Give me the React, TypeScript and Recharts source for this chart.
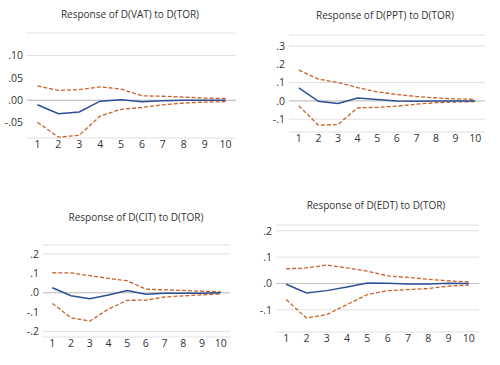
import React from 'react';
import { LineChart, Line, XAxis, YAxis, CartesianGrid, ReferenceLine } from 'recharts';

const periods = [1, 2, 3, 4, 5, 6, 7, 8, 9, 10];
const gridX = [1.5, 2.5, 3.5, 4.5, 5.5, 6.5, 7.5, 8.5, 9.5, 10.5];

const vatResp = [-0.010, -0.030, -0.026, -0.002, 0.001, -0.003, -0.001, 0.000, 0.000, 0.000];
const vatUpper = [0.032, 0.022, 0.024, 0.030, 0.025, 0.010, 0.009, 0.007, 0.005, 0.004];
const vatLower = [-0.049, -0.082, -0.078, -0.035, -0.020, -0.016, -0.010, -0.006, -0.004, -0.003];

const pptResp = [0.071, -0.002, -0.014, 0.016, 0.008, 0.000, -0.002, -0.001, 0.000, 0.000];
const pptUpper = [0.168, 0.119, 0.100, 0.073, 0.049, 0.035, 0.024, 0.016, 0.011, 0.008];
const pptLower = [-0.027, -0.133, -0.129, -0.038, -0.035, -0.029, -0.018, -0.010, -0.006, -0.004];

const citResp = [0.026, -0.015, -0.031, -0.012, 0.012, -0.008, -0.003, -0.003, -0.002, 0.000];
const citUpper = [0.103, 0.102, 0.088, 0.074, 0.062, 0.019, 0.015, 0.012, 0.008, 0.005];
const citLower = [-0.055, -0.129, -0.146, -0.084, -0.039, -0.038, -0.022, -0.016, -0.011, -0.006];

const edtResp = [-0.003, -0.036, -0.027, -0.013, 0.002, 0.001, -0.002, -0.002, 0.001, 0.000];
const edtUpper = [0.056, 0.059, 0.070, 0.059, 0.047, 0.029, 0.023, 0.016, 0.010, 0.006];
const edtLower = [-0.061, -0.131, -0.118, -0.080, -0.042, -0.027, -0.023, -0.019, -0.010, -0.006];

const vatTicks = [-0.05, 0, 0.05, 0.1];
const pptTicks = [-0.1, 0, 0.1, 0.2, 0.3];
const citTicks = [-0.2, -0.1, 0, 0.1, 0.2];
const edtTicks = [-0.1, 0, 0.1, 0.2];

const FONT = '"Open Sans", "Noto Sans", sans-serif';
const BLUE = '#2c4f96';
const ORANGE = '#c9622a';
const GRID = '#e0e0e0';
const CHART_W = 250;
const CHART_H = 180;
const X_AXIS_H = 20;

const build = (resp: number[], upper: number[], lower: number[]) =>
  periods.map((p, i) => ({ period: p, resp: resp[i], upper: upper[i], lower: lower[i] }));

// strips the leading zero the way EViews prints it: 0.05 -> .05, -0.1 -> -.1
const fmt = (digits: number) => (v: number) => v.toFixed(digits).replace('0.', '.');

type PanelProps = {
  title: string;
  data: any[];
  ticks: number[];
  domain: [number, number];
  digits: number;
  left: number;
  top: number;
  axisWidth: number;
  margin: { top: number; right: number; bottom: number; left: number };
  titleX: number;
  titleY: number;
};

function Panel({ title, data, ticks, domain, digits, left, top, axisWidth, margin, titleX, titleY }: PanelProps) {
  const plotH = CHART_H - margin.top - margin.bottom - X_AXIS_H;
  return (
    <>
      <div
        style={{
          position: 'absolute',
          left: titleX - 100,
          top: titleY - 8,
          width: 200,
          textAlign: 'center',
          fontFamily: FONT,
          fontSize: 10,
          lineHeight: '16px',
          color: '#333',
        }}
      >
        {title}
      </div>
      <div style={{ position: 'absolute', left, top }}>
        <LineChart width={CHART_W} height={CHART_H} data={data} margin={margin}>
          <CartesianGrid stroke={GRID} strokeWidth={1} vertical={false} />
          {/* vertical gridlines between the periods: long tick lines of a zero-height axis on top */}
          <XAxis
            xAxisId="grid"
            dataKey="period"
            type="number"
            orientation="top"
            domain={[0.5, 10.5]}
            ticks={gridX}
            interval={0}
            height={0}
            tick={false}
            axisLine={false}
            tickLine={{ stroke: '#dadada', strokeWidth: 1 }}
            tickSize={-plotH}
          />
          <XAxis
            dataKey="period"
            type="number"
            domain={[0.5, 10.5]}
            ticks={periods}
            axisLine={false}
            tickLine={false}
            tickSize={0}
            tickMargin={3}
            height={X_AXIS_H}
            interval={0}
            tick={{ fill: '#333', fontSize: 10.5, fontFamily: FONT }}
          />
          <YAxis
            type="number"
            domain={domain}
            ticks={ticks}
            allowDataOverflow
            width={axisWidth}
            axisLine={false}
            tickLine={false}
            tickSize={0}
            tickMargin={4}
            tickFormatter={fmt(digits)}
            tick={{ fill: '#333', fontSize: 10.5, fontFamily: FONT }}
          />
          <ReferenceLine y={0} stroke="#c4c4c4" strokeWidth={1.2} />
          <Line dataKey="upper" stroke={ORANGE} strokeWidth={1.3} strokeDasharray="4 2" dot={false} isAnimationActive={false} />
          <Line dataKey="lower" stroke={ORANGE} strokeWidth={1.3} strokeDasharray="4 2" dot={false} isAnimationActive={false} />
          <Line dataKey="resp" stroke={BLUE} strokeWidth={1.5} dot={false} isAnimationActive={false} />
        </LineChart>
      </div>
    </>
  );
}

export default function App() {
  return (
    <div style={{ position: 'absolute', left: 0, top: 0, width: 500, height: 365, background: '#fff', overflow: 'hidden' }}>
      <Panel
        title="Response of D(VAT) to D(TOR)"
        data={build(vatResp, vatUpper, vatLower)}
        ticks={vatTicks}
        domain={[-0.084, 0.15]}
        digits={2}
        left={0}
        top={0}
        axisWidth={27}
        margin={{ top: 33, right: 14, bottom: 22, left: 0 }}
        titleX={130}
        titleY={14}
      />
      <Panel
        title="Response of D(PPT) to D(TOR)"
        data={build(pptResp, pptUpper, pptLower)}
        ticks={pptTicks}
        domain={[-0.17, 0.36]}
        digits={1}
        left={250}
        top={0}
        axisWidth={39}
        margin={{ top: 35, right: 15, bottom: 28, left: 0 }}
        titleX={385}
        titleY={15}
      />
      <Panel
        title="Response of D(CIT) to D(TOR)"
        data={build(citResp, citUpper, citLower)}
        ticks={citTicks}
        domain={[-0.228, 0.246]}
        digits={1}
        left={0}
        top={185}
        axisWidth={43}
        margin={{ top: 60, right: 20, bottom: 8, left: 0 }}
        titleX={136}
        titleY={217}
      />
      <Panel
        title="Response of D(EDT) to D(TOR)"
        data={build(edtResp, edtUpper, edtLower)}
        ticks={edtTicks}
        domain={[-0.184, 0.222]}
        digits={1}
        left={250}
        top={185}
        axisWidth={26}
        margin={{ top: 40, right: 21, bottom: 13, left: 0 }}
        titleX={376}
        titleY={205}
      />
    </div>
  );
}
